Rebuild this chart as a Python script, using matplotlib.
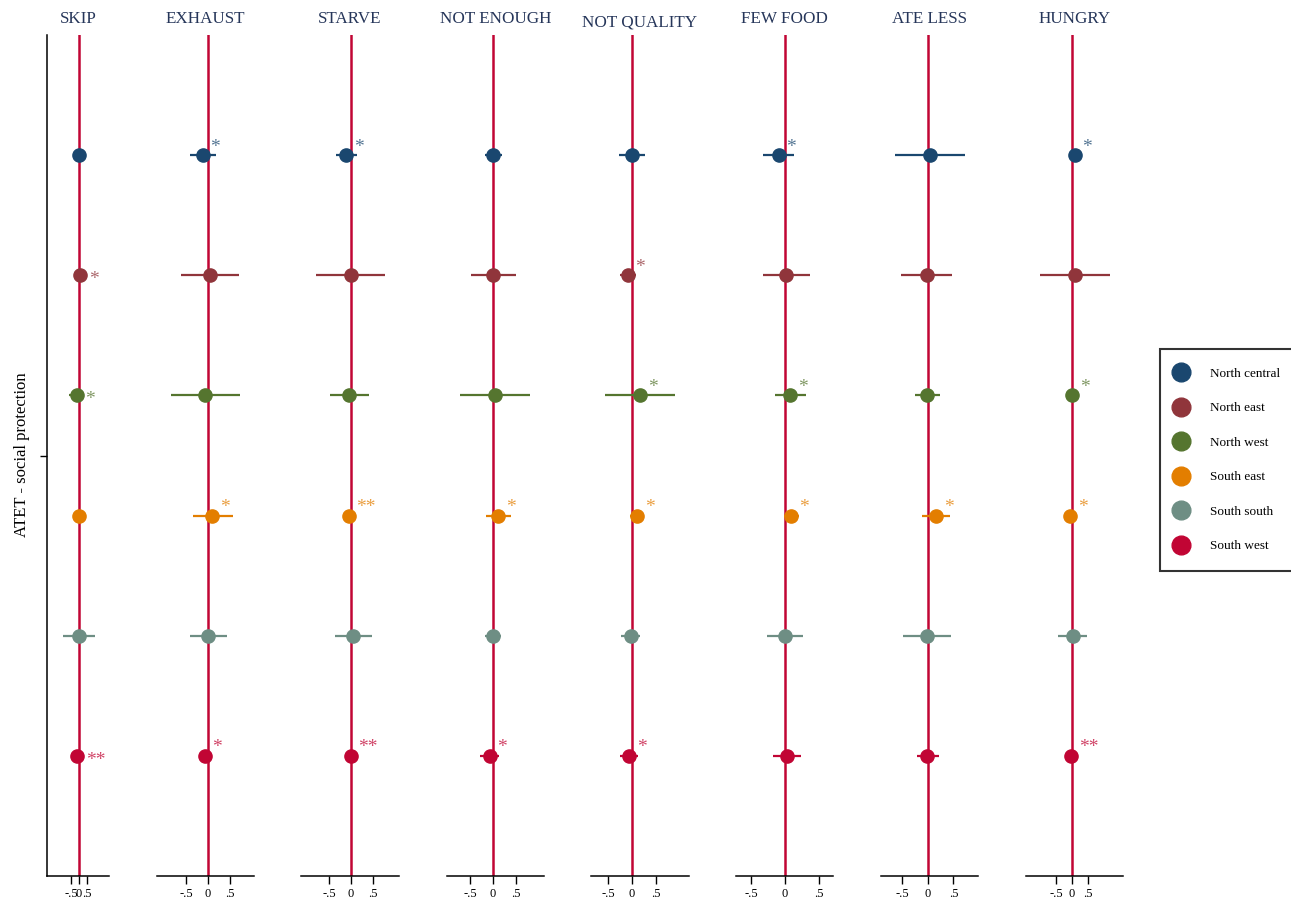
import matplotlib
matplotlib.use("Agg")
import matplotlib.pyplot as plt
from matplotlib.lines import Line2D

plt.rcParams["font.family"] = ["Liberation Serif", "DejaVu Serif"]

# Outcomes (one panel each) and regions (one row each)
outcomes = ["SKIP", "EXHAUST", "STARVE", "NOT ENOUGH", "NOT QUALITY",
            "FEW FOOD", "ATE LESS", "HUNGRY"]
regions = ["North central", "North east", "North west",
           "South east", "South south", "South west"]
region_colors = ["#1a476f", "#90353b", "#55752f", "#e37e00", "#6e8e84", "#c10534"]

# ATET point estimates by outcome, rows in region order
coef_skip = [0.00, 0.08, -0.15, 0.00, 0.00, -0.10]
coef_exhaust = [-0.12, 0.04, -0.06, 0.10, 0.00, -0.08]
coef_starve = [-0.11, -0.01, -0.04, -0.05, 0.05, -0.01]
coef_notenough = [0.01, 0.01, 0.05, 0.12, 0.00, -0.07]
coef_notquality = [0.00, -0.09, 0.17, 0.11, -0.03, -0.06]
coef_fewfood = [-0.09, 0.02, 0.08, 0.09, 0.00, 0.03]
coef_ateless = [0.04, -0.02, -0.01, 0.16, -0.02, -0.01]
coef_hungry = [0.08, 0.08, 0.00, -0.05, 0.03, -0.02]

# Lower and upper confidence bounds
lo_skip = [-0.25, -0.15, -0.62, -0.25, -1.02, -0.35]
hi_skip = [0.25, 0.30, 0.33, 0.25, 1.00, 0.15]
lo_exhaust = [-0.40, -0.61, -0.84, -0.34, -0.41, -0.18]
hi_exhaust = [0.17, 0.70, 0.73, 0.56, 0.42, 0.02]
lo_starve = [-0.34, -0.80, -0.47, -0.15, -0.36, -0.11]
hi_starve = [0.13, 0.77, 0.41, 0.05, 0.48, 0.09]
lo_notenough = [-0.18, -0.48, -0.73, -0.15, -0.17, -0.28]
hi_notenough = [0.21, 0.51, 0.82, 0.39, 0.18, 0.13]
lo_notquality = [-0.27, -0.24, -0.56, -0.04, -0.23, -0.24]
hi_notquality = [0.28, 0.08, 0.90, 0.26, 0.17, 0.12]
lo_fewfood = [-0.32, -0.32, -0.14, -0.01, -0.27, -0.18]
hi_fewfood = [0.13, 0.37, 0.31, 0.21, 0.26, 0.24]
lo_ateless = [-0.64, -0.52, -0.25, -0.12, -0.48, -0.21]
hi_ateless = [0.72, 0.48, 0.24, 0.43, 0.45, 0.21]
lo_hungry = [-0.05, -1.00, -0.12, -0.18, -0.44, -0.15]
hi_hungry = [0.20, 1.17, 0.12, 0.08, 0.48, 0.11]

# Significance stars
sig_skip = ["", "*", "*", "", "", "**"]
sig_exhaust = ["*", "", "", "*", "", "*"]
sig_starve = ["*", "", "", "**", "", "**"]
sig_notenough = ["", "", "", "*", "", "*"]
sig_notquality = ["", "*", "*", "*", "", "*"]
sig_fewfood = ["*", "", "*", "*", "", ""]
sig_ateless = ["", "", "", "*", "", ""]
sig_hungry = ["*", "", "*", "*", "", "**"]

xticks = [-0.5, 0.0, 0.5]
xtick_labels = ["-.5", "0", ".5"]

coefs = [coef_skip, coef_exhaust, coef_starve, coef_notenough,
         coef_notquality, coef_fewfood, coef_ateless, coef_hungry]
los = [lo_skip, lo_exhaust, lo_starve, lo_notenough,
       lo_notquality, lo_fewfood, lo_ateless, lo_hungry]
his = [hi_skip, hi_exhaust, hi_starve, hi_notenough,
       hi_notquality, hi_fewfood, hi_ateless, hi_hungry]
sigs = [sig_skip, sig_exhaust, sig_starve, sig_notenough,
        sig_notquality, sig_fewfood, sig_ateless, sig_hungry]

# Panel layout (pixels) and per-panel x ranges
W, H = 1291, 906
panel_left = [47, 157, 301, 447, 591, 736, 881, 1026]
panel_right = [109, 254, 399, 544, 689, 833, 978, 1123]
panel_xlim = [(-2.0, 1.875), (-1.16, 1.045), (-1.136, 1.09), (-1.02, 1.13),
              (-0.854, 1.19), (-0.72, 0.706), (-0.92, 0.98), (-1.44, 1.59)]
top_px, bottom_px = 35, 876
title_color = "#26365a"
zero_color = "#c10534"

fig = plt.figure(figsize=(W / 100, H / 100), dpi=100)
fig.patch.set_facecolor("white")

rows = list(range(1, len(regions) + 1))

for i, name in enumerate(outcomes):
    l, r = panel_left[i], panel_right[i]
    ax = fig.add_axes([l / W, 1 - bottom_px / H, (r - l) / W, (bottom_px - top_px) / H])
    ax.set_xlim(*panel_xlim[i])
    ax.set_ylim(len(regions) + 1, 0)
    ax.axvline(0, color=zero_color, lw=1.8, zorder=1)
    for j in range(len(regions)):
        c = region_colors[j]
        ax.hlines(rows[j], los[i][j], his[i][j], color=c, lw=1.6, zorder=2)
        ax.plot(coefs[i][j], rows[j], "o", ms=9.5, color=c, mec=c, zorder=3)
        if sigs[i][j]:
            if i == 0:
                off = (6.0, -6.5)
            else:
                off = (5.5, 2.5)
            ax.annotate(sigs[i][j], (coefs[i][j], rows[j]), xytext=off,
                        textcoords="offset points", ha="left", va="baseline",
                        fontsize=14, color=c, alpha=0.75, zorder=4)
    for side in ["top", "right"]:
        ax.spines[side].set_visible(False)
    ax.spines["left"].set_visible(i == 0)
    ax.spines["bottom"].set_linewidth(1.1)
    ax.spines["left"].set_linewidth(1.1)
    ax.set_xticks(xticks)
    ax.set_xticklabels(xtick_labels, fontsize=9)
    ax.tick_params(axis="x", length=6, width=1.0, pad=2.5)
    if i == 0:
        ax.set_yticks([(len(regions) + 1) / 2])
        ax.set_yticklabels([""])
        ax.tick_params(axis="y", length=5, width=1.0)
    else:
        ax.set_yticks([])
    ax.set_title(name, fontsize=12.3, color=title_color,
                 pad=9 if name != "NOT QUALITY" else 6)

fig.text(22 / W, 1 - 455 / H, "ATET - social protection", rotation=90,
         ha="center", va="center", fontsize=12)

handles = [Line2D([], [], ls="none", marker="o", ms=13.5, color=c, mec=c)
           for c in region_colors]
leg = fig.legend(handles, regions, loc="upper left",
                 bbox_to_anchor=(1160 / W, 1 - 349 / H),
                 frameon=True, fancybox=False, edgecolor="black",
                 fontsize=9.5, borderpad=1.4, labelspacing=1.69,
                 handlelength=0.4, handletextpad=1.98, borderaxespad=0)
leg.get_frame().set_linewidth(1.5)

fig.savefig("out.png", dpi=100, facecolor="white")
